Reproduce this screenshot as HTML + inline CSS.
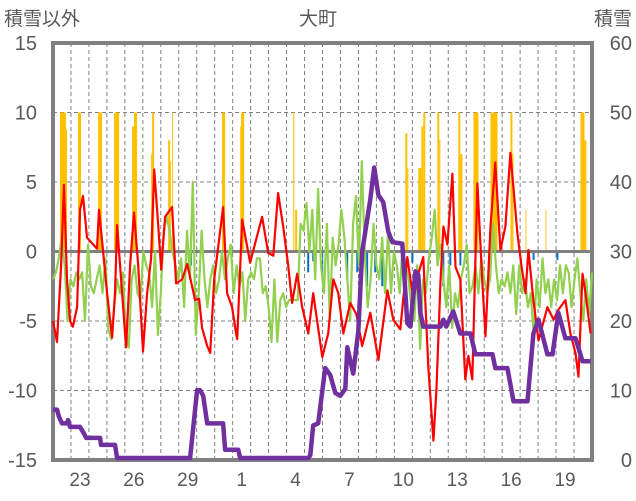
<!DOCTYPE html>
<html><head><meta charset="utf-8">
<style>
html,body{margin:0;padding:0;background:#fff;}
svg{display:block;font-family:"Liberation Sans","Noto Sans CJK JP",sans-serif;}
</style></head>
<body>
<svg id="chart" width="636" height="501" viewBox="0 0 636 501" xmlns="http://www.w3.org/2000/svg">
<text x="4" y="25" font-size="19" fill="#595959">積雪以外</text>
<text x="318" y="25" font-size="19" fill="#595959" text-anchor="middle">大町</text>
<text x="632" y="25" font-size="19" fill="#595959" text-anchor="end">積雪</text>
<g id="grid"></g>
<g id="bars"></g>
<g id="axes"></g>
<g id="lines"></g>
</svg>
<script>
const leftTicks=[15,10,5,0,-5,-10,-15];
const rightTicks=[60,50,40,30,20,10,0];
const xLabels=["23","26","29","1","4","7","10","13","16","19"];
const xLabelDays=[1,4,7,10,13,16,19,22,25,28];
const redT=[0,.22,.45,.61,.78,.95,1.11,1.34,1.50,1.67,1.89,2.17,2.45,2.56,2.79,3.01,3.29,3.45,3.57,3.79,4.07,4.29,4.51,4.74,5.01,5.24,5.46,5.63,5.85,6.02,6.24,6.63,6.85,7.19,7.47,7.91,8.13,8.30,8.58,8.75,8.97,9.47,9.69,9.97,10.19,10.25,10.53,10.97,11.64,11.98,12.26,12.53,12.81,13.09,13.31,13.59,13.87,14.21,14.48,14.99,15.32,15.60,15.88,16.16,16.55,16.88,17.21,17.66,18.11,18.61,18.94,19.33,19.72,20.06,20.33,20.61,20.89,21.17,21.34,21.56,21.73,21.95,22.23,22.40,22.67,22.95,23.12,23.34,23.62,23.90,24.07,24.35,24.62,24.90,25.18,25.46,25.85,26.07,26.30,26.46,26.74,27.02,27.52,27.86,28.13,28.52,28.80,29.08,29.25,29.47,29.64,29.92];
const redV=[-5,-6.5,-1,4.8,-2,-5,-5.4,-4,3,4,1,0.6,0.2,3,0,-3,-6.2,-3,1.9,-2,-6.9,-1,2.8,-1,-7.2,-3,-0.5,5.9,2,-1.3,2.5,3.2,-2.3,-2,-0.9,-3.5,-3.4,-5.5,-6.8,-7.3,-2,3.2,-3,-4,-5.9,-6.3,2.3,-0.8,2.5,-0.1,-0.3,4.2,1.8,-1,-3.7,-1.6,-4,-5.9,-3,-7.6,-5.9,-2,-3,-5.9,-3.7,-4.5,-6.8,-4.4,-7.8,-2.8,-4.9,-5.6,-0.4,-3.5,-1.6,-0.4,-8.3,-13.6,-10,-2.3,1.8,0.5,5.6,-1.1,-2,-9.2,-7.5,-9.2,4.9,-2.3,-6.1,1.8,6.4,0.1,1.8,7.1,1.3,-1,-3,0.1,-3.5,-6.4,-4,-4.9,-4.2,-3.5,-5.9,-7.3,-9,-1.6,-3,-5.9];
const greenV=[-2,-1.5,-0.5,1,-1,-5,-2,-2.5,-1.5,-2,-1.5,-5,0.5,-2.5,-3,-2,-1,-3,-0.5,
-5.6,-6.3,-4,-2,-3,-1.5,-5.8,-6.9,-2,-1,-3,-3.5,0,-1,-1.5,-4,0,-6,-3,1.5,
2.5,1.5,0,-1,-2,-0.5,-4,1.5,-2,5,-6,-3,1.5,-2,-4,-2,-1,-3,-2,0,
-2,-0.5,0.5,-3,-1,-2.5,-1.5,-5,-2,-1.5,-2,-0.5,-0.5,-3,-2.5,-4,-6.5,-2,-6.5,-3.5,-3,-4,-3.5,
-3.5,-3.5,-3.5,2,1.5,3.5,0,3,-2,4.5,-1,-3,2,-5,1,-1,0.5,3,1,-2,
-5,2,4,-1,6.5,0,-4,-2,2,-1,-2,1,-3,1.5,-3,0,-1,-3,0.5,-1,
-2,-4,-5,-1,-7,-2,-3,-0.5,1,3,-1,0.5,-2,-4,-1,-5.5,-3,-4,-2,-1,
0.5,-3,-2.5,-1,-3,-0.5,-2,-3,-2,2,-1,-3,-2,-2.5,-1.5,-3,-1,-4.5,-1,-3,
-2,-4,-3,-6,-2,-4,-0.5,-3,-2,-4,-2,-3.5,-1,-3,-1,-1.5,-4,-2,-0.5,-3,-5,-2,-4.5,-1.5];
const purpleT=[0,.22,.33,.50,.78,.84,.95,1.50,1.73,1.84,2.62,2.67,3.45,3.57,7.63,8.02,8.19,8.36,8.58,9.47,9.58,10.31,10.42,14.21,14.32,14.48,14.76,15.15,15.43,15.71,15.99,16.27,16.38,16.71,16.99,17.21,17.66,17.88,18.11,18.38,18.66,18.89,19.44,19.72,19.89,20.17,20.33,20.45,20.61,21.56,21.73,21.89,22.28,22.67,23.23,23.51,24.46,24.62,25.29,25.63,26.41,26.74,27.02,27.52,27.80,28.13,28.52,29.08,29.47,29.92];
const purpleV=[7,7,6,5,5,5.5,4.5,4.5,3.5,2.9,2.9,1.9,1.9,0,0,9.8,9.8,9,5,5,1.2,1.2,0,0,0.4,4.7,5,13,12,9.4,9,10,16,12.2,18.3,29.8,37.4,42,38,37,32.7,31.2,31,19.5,19,27,26.5,21,19,19,20,19,21.2,18,18,15,15,13,13,8.2,8.2,18,20,15,15,21,17.3,17.3,14,14];
const yellowStart=[.39,.72,1.39,2.51,3.40,4.40,4.51,5.46,5.52,6.41,6.52,6.63,9.41,10.42,10.47,13.37,13.48,19.61,19.72,20.33,20.50,20.61,21.39,21.50,22.56,22.67,23.40,24.35,25.46,25.57,26.30,27.41,29.36,29.58];
const yellowEnd=[.72,.78,1.56,2.73,3.68,4.51,4.68,5.52,5.63,6.52,6.57,6.68,9.58,10.47,10.64,13.43,13.59,19.72,19.78,20.50,20.61,20.72,21.50,21.56,22.67,22.79,23.68,24.74,25.57,25.63,26.35,27.46,29.58,29.69];
const yellowV=[10,8.8,10,10,10,9,10,7,10,8,6.5,10,10,9,10,10,3,8.5,6,6,9,10,10,8,10,7,10,10,10,7,3,3,10,8];
const blueStart=[7.63,14.15,14.43,14.99,16.32,16.88,17.21,17.43,17.88,18.27,19.94,21.67,22.06,22.62,23.01,26.69,28.02];
const blueEnd=[7.74,14.26,14.54,15.04,16.43,16.99,17.32,17.54,17.99,18.38,20.06,21.78,22.17,22.73,23.12,26.80,28.13];
const blueV=[-1,-1.5,-0.7,-2,-2,-1.5,-0.7,-2.5,-1.5,-2.5,-0.8,-2.5,-1,-1,-0.7,-0.6,-0.6];

const NS='http://www.w3.org/2000/svg';
const X0=53,X1=592,Y0=43,Y1=460,DAYS=30;
const x=d=>X0+d*(X1-X0)/DAYS;
const yL=v=>(Y0+Y1)/2-v*(Y1-Y0)/30;
const yR=v=>Y1-2-v*(Y1-2-Y0)/60;
function mk(tag,attrs,parent){const e=document.createElementNS(NS,tag);for(const k in attrs)e.setAttribute(k,attrs[k]);parent.appendChild(e);return e;}
const grid=document.getElementById('grid'),bars=document.getElementById('bars'),lines=document.getElementById('lines'),axes=document.getElementById('axes');
for(let d=1;d<DAYS;d++){const l=mk('line',{x1:x(d),x2:x(d),y1:Y0,y2:Y1,stroke:'#808080','stroke-width':1,'stroke-dasharray':'4,3'},grid);

}
leftTicks.forEach(v=>{if(v!==0&&Math.abs(v)!==15){const l=mk('line',{x1:X0,x2:X1,y1:yL(v),y2:yL(v),stroke:'#808080','stroke-width':1,'stroke-dasharray':'4,3'},grid);

}});
function rect(s,e,v,color){const y=Math.min(yL(0),yL(v));const r=mk('rect',{x:x(s),y:y,width:Math.max(0.8,x(e)-x(s)),height:Math.abs(yL(v)-yL(0)),fill:color},bars);return r;}
yellowStart.forEach((s,i)=>{const r=rect(s,yellowEnd[i],yellowV[i],'#FFC000');

});
blueStart.forEach((s,i)=>{const r=rect(s,blueEnd[i],blueV[i],'#0070C0');

});
const zl=mk('line',{x1:X0,x2:X1,y1:yL(0),y2:yL(0),stroke:'#808080','stroke-width':3},axes);


const fr=mk('rect',{x:X0,y:Y0,width:X1-X0,height:Y1-Y0,fill:'none',stroke:'#808080','stroke-width':4},axes);


const gstep=DAYS/(greenV.length-1);
const gp=greenV.map((v,i)=>x(i*gstep).toFixed(1)+','+yL(v).toFixed(1)).join(' ');
const g=mk('polyline',{points:gp,fill:'none',stroke:'#92D050','stroke-width':2.2,'stroke-linejoin':'round'},lines);


const rp=redT.map((t,i)=>x(t).toFixed(1)+','+yL(redV[i]).toFixed(1)).join(' ');
const r=mk('polyline',{points:rp,fill:'none',stroke:'#FF0000','stroke-width':2.2,'stroke-linejoin':'round'},lines);


const pp=purpleT.map((t,i)=>x(t).toFixed(1)+','+yR(purpleV[i]).toFixed(1)).join(' ');
const p=mk('polyline',{points:pp,fill:'none',stroke:'#7030A0','stroke-width':4.5,'stroke-linejoin':'round'},lines);


leftTicks.forEach(v=>{const t=mk('text',{x:37,y:yL(v)+7,'font-size':20,fill:'#595959','text-anchor':'end'},axes);t.textContent=v;

});
rightTicks.forEach(v=>{const t=mk('text',{x:632,y:yL(v/2-15)+7,'font-size':20,fill:'#595959','text-anchor':'end'},axes);t.textContent=v;

});
xLabels.forEach((s,i)=>{const t=mk('text',{x:x(xLabelDays[i]+0.5),y:486,'font-size':19,fill:'#595959','text-anchor':'middle'},axes);t.textContent=s;

});
</script>
</body></html>
